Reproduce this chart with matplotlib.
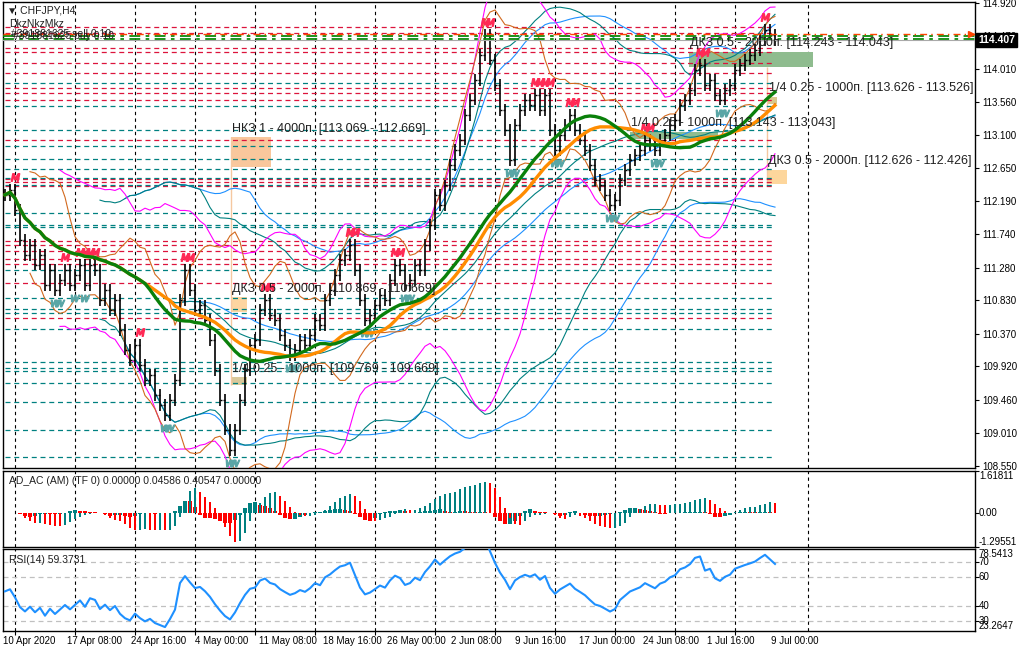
import numpy as np
import pandas as pd
import matplotlib
matplotlib.use("Agg")
import matplotlib.pyplot as plt
import matplotlib.transforms as mtransforms
from matplotlib.patches import Rectangle

plt.rcParams['font.family'] = ['Liberation Sans', 'DejaVu Sans']

# CHFJPY H4 closes (one value per drawn bar)
closes = [
    112.28, 112.35, 112.07, 111.66, 111.45, 111.59, 111.32, 111.45, 111.04, 111.25,
    110.97, 111.11, 111.25, 111.04, 111.18, 111.32, 111.04, 111.32, 111.25, 110.83,
    110.97, 110.70, 110.83, 110.42, 110.15, 110.01, 110.21, 109.94, 109.73, 109.80,
    109.53, 109.39, 109.25, 109.46, 109.73, 110.83, 111.25, 110.97, 110.70, 110.76,
    110.56, 110.28, 109.87, 109.46, 109.05, 108.77, 109.05, 109.46, 109.87, 110.21,
    110.28, 110.70, 110.83, 110.63, 110.56, 110.35, 110.21, 110.08, 110.15, 110.28,
    110.21, 110.35, 110.56, 110.49, 110.83, 110.97, 111.18, 111.38, 111.45, 111.59,
    111.25, 110.83, 110.56, 110.63, 110.76, 110.90, 110.83, 111.11, 111.32, 111.25,
    111.04, 111.11, 111.32, 111.25, 111.59, 111.87, 112.28, 112.14, 112.41, 112.69,
    112.90, 113.04, 113.38, 113.59, 113.86, 114.20, 114.48, 114.14, 113.79, 113.45,
    113.17, 112.76, 113.24, 113.45, 113.59, 113.52, 113.65, 113.45, 113.65, 113.17,
    112.90, 113.10, 113.24, 113.38, 113.17, 113.04, 112.90, 112.69, 112.48, 112.41,
    112.28, 112.14, 112.21, 112.48, 112.62, 112.76, 112.83, 112.90, 113.04, 112.97,
    112.90, 113.04, 113.10, 113.24, 113.31, 113.52, 113.59, 113.72, 114.00, 114.07,
    113.79, 113.86, 113.65, 113.59, 113.72, 113.79, 114.00, 114.07, 114.14, 114.20,
    114.27, 114.41, 114.55, 114.48, 114.407,
]

price_ticks = [114.920, 114.470, 114.010, 113.560, 113.100, 112.650, 112.190, 111.740,
               111.280, 110.830, 110.370, 109.920, 109.460, 109.010, 108.550]

red_levels = [114.590, 114.507, 114.301, 114.246, 114.095, 113.957, 113.751, 113.682,
              113.585, 113.035, 112.499, 112.457, 112.402, 111.646, 111.591, 111.508,
              111.398, 111.329, 111.068, 110.586]
teal_levels = [113.819, 113.503, 113.173, 112.953, 112.774, 112.636, 112.512, 112.416,
               112.031, 111.866, 111.838, 111.247, 110.861, 110.710, 110.655, 110.435,
               109.981, 109.898, 109.857, 109.692, 109.431, 109.045, 108.674]
green_lines = [114.466, 114.424]
order_line = 114.493
bid = 114.407

zone_names = ["НКЗ 1 - 4000п. [113.069 - 112.669]",
              "ДКЗ 0.5 - 2000п. [110.869 - 110.669]",
              "1/4 0.25 - 1000п. [109.769 - 109.669]",
              "ДКЗ 0.5 - 2000п. [114.243 - 114.043]",
              "1/4 0.25 - 1000п. [113.143 - 113.043]",
              "1/4 0.25 - 1000п. [113.626 - 113.526]",
              "ДКЗ 0.5 - 2000п. [112.626 - 112.426]"]
zone_tops = [113.069, 110.869, 109.769, 114.243, 113.143, 113.626, 112.626]
zone_bottoms = [112.669, 110.669, 109.669, 114.043, 113.043, 113.526, 112.426]
zone_start = [45.2, 45.2, 45.2, 136.8, 125.0, 152.6, 152.4]
zone_end = [53.2, 48.4, 48.4, 161.6, 142.6, 154.4, 156.4]
zone_colors = ['#f9c79c', '#fdd5a0', '#d9c99b', '#8fbc8f', '#8fbc8f', '#d8c88c', '#fdd69c']

time_labels = ["10 Apr 2020", "17 Apr 08:00", "24 Apr 16:00", "4 May 00:00",
               "11 May 08:00", "18 May 16:00", "26 May 00:00", "2 Jun 08:00",
               "9 Jun 16:00", "17 Jun 00:00", "24 Jun 08:00", "1 Jul 16:00", "9 Jul 00:00"]

# ---- derived series ----
c = pd.Series(closes)
n = len(c)
x = np.arange(n)
o = c.shift(1).fillna(c.iloc[0])
hi = np.maximum(o, c) + 0.08
lo = np.minimum(o, c) - 0.08


def bands(period, dev):
    mid = c.rolling(period, min_periods=period // 2).mean()
    sd = c.rolling(period, min_periods=period // 2).std(ddof=0)
    return mid, mid + dev * sd, mid - dev * sd


def wilder_rsi(values, period):
    d = np.diff(values, prepend=values[0])
    seed = np.abs(d).mean() / 2
    au, ad = seed, seed
    out = []
    for v in d:
        au = (au * (period - 1) + max(v, 0)) / period
        ad = (ad * (period - 1) + max(-v, 0)) / period
        out.append(100 - 100 / (1 + au / ad))
    return np.array(out)


W, H = 1020, 652


def box(l, t, r, b):
    return [l / W, 1 - b / H, (r - l) / W, (b - t) / H]


fig = plt.figure(figsize=(W / 100, H / 100), dpi=100)
ax = fig.add_axes(box(3, 2, 975, 468))
ax_ad = fig.add_axes(box(3, 471, 975, 547))
ax_rsi = fig.add_axes(box(3, 549, 975, 631))

xlim = (-0.4, 194.0)
grid_x = np.arange(2, 150, 12).tolist() + [160.6]
for a in (ax, ax_ad, ax_rsi):
    a.set_xlim(*xlim)
    a.set_facecolor('white')
    for s in a.spines.values():
        s.set_color('black')
        s.set_linewidth(1)
    for gx in grid_x:
        a.axvline(gx, color='black', lw=0.8, ls=(0, (3, 3)), zorder=1)
    a.yaxis.tick_right()
    a.tick_params(axis='y', labelsize=7, length=3, pad=2, width=0.8)
    a.tick_params(axis='x', length=0, labelbottom=False)

# ---- main chart ----
ax.set_ylim(108.522, 114.933)
ax.set_yticks(price_ticks)
ax.set_yticklabels([f"{t:.3f}" for t in price_ticks])

last = n - 1
ax.hlines(red_levels, 0, last, colors='#dc143c', lw=0.9, linestyles=(0, (4, 3)), zorder=2)
ax.hlines(teal_levels, 0, last, colors='#008080', lw=0.9, linestyles=(0, (4, 3)), zorder=2)

for name, top, bot, s, e, col in zip(zone_names, zone_tops, zone_bottoms,
                                     zone_start, zone_end, zone_colors):
    ax.add_patch(Rectangle((s, bot), e - s, top - bot, facecolor=col,
                           edgecolor='none', zorder=1.5))
    ax.annotate(name, (s + 0.2, top), xytext=(0, 2), textcoords='offset points',
                fontsize=9, color='#202020', va='bottom', ha='left',
                annotation_clip=False, clip_on=True, zorder=8)
ax.vlines(45.2, 109.669, 113.069, color='#f5c8a0', lw=1, zorder=1.5)
ax.vlines(152.4, 112.426, 114.043, color='#f5c8a0', lw=1, zorder=1.5)

# bollinger-style envelopes
for period, dev, col in [(50, 2, '#1e90ff'), (40, 2, '#008080'),
                         (24, 2.4, '#ff00ff'), (12, 2, '#d2691e')]:
    mid, up, dn = bands(period, dev)
    if period >= 40:
        ax.plot(x, mid, color=col, lw=0.8, zorder=3)
    ax.plot(x, up, color=col, lw=0.8, zorder=3)
    ax.plot(x, dn, color=col, lw=0.8, zorder=3)

# bars
ax.vlines(x, lo, hi, color='black', lw=1.2, zorder=4)
ax.hlines(o, x - 0.4, x, color='black', lw=1, zorder=4)
ax.hlines(c, x, x + 0.4, color='black', lw=1, zorder=4)

# fractal marks
for i in range(2, n - 2):
    if hi[i] == hi[i - 2:i + 3].max():
        ax.plot(i, hi[i] + 0.1, marker='$M$', color='#ff2a55', ms=6, zorder=5)
    if lo[i] == lo[i - 2:i + 3].min():
        ax.plot(i, lo[i] - 0.1, marker='$W$', color='#5aa6a6', ms=6, zorder=5)

ax.plot(x, c.rolling(34, min_periods=1).mean(), color='#ff8c00', lw=2.4, zorder=6)
ax.plot(x, c.rolling(29, min_periods=1).mean(), color='#0a800a', lw=2.4, zorder=6)

for gl in green_lines:
    ax.axhline(gl, color='#0a8a0a', lw=1.3, ls=(0, (6, 3, 2, 3)), zorder=6)
ax.axhline(order_line, color='#ff4500', lw=1, ls=(0, (5, 3, 1, 3)), zorder=6)
ax.plot(193.3, order_line, marker='>', color='#ff4500', ms=5, zorder=7, clip_on=False)
ax.axhline(bid, color='#a9a9a9', lw=0.8, zorder=6)
ytr = mtransforms.blended_transform_factory(ax.transAxes, ax.transData)
ax.text(1.003, bid, f"{bid:.3f}", transform=ytr, color='white', fontsize=7.5,
        fontweight='bold', va='center', ha='left',
        bbox=dict(boxstyle='square,pad=0.2', fc='black', ec='black'), zorder=10)

ax.text(0.004, 0.992, "▼ CHFJPY,H4", transform=ax.transAxes, fontsize=7.5,
        va='top', ha='left', color='#202020', zorder=9)
ax.text(0.006, 0.963, "DkzNkzMkz", transform=ax.transAxes, fontsize=7.5,
        va='top', ha='left', color='#202020', zorder=9)
ax.text(0.008, 0.942, "#391881625 sell 0.10", transform=ax.transAxes, fontsize=7.5,
        va='top', ha='left', color='#202020', zorder=9)
ax.text(0.010, 0.938, "#391881625 buy 0.10", transform=ax.transAxes, fontsize=7.5,
        va='top', ha='left', color='#202020', zorder=9)

# ---- AD_AC panel ----
med = pd.Series((hi + lo) / 2)
ao = med.rolling(3, min_periods=1).mean() - med.rolling(13, min_periods=1).mean()
ac = ao - ao.rolling(3, min_periods=1).mean()
ao_col = np.where(ao.diff().fillna(0) >= 0, '#008080', '#ff0000')
ac_col = np.where(ac.diff().fillna(0) >= 0, '#008080', '#ff0000')
ax_ad.set_ylim(-1.29551, 1.61811)
ax_ad.bar(x, ac, width=0.95, color=ac_col, zorder=3)
ax_ad.bar(x, ao, width=0.35, color=ao_col, zorder=4)
ax_ad.set_yticks([1.61811, 0, -1.29551])
ax_ad.set_yticklabels([])
ad_tr = mtransforms.blended_transform_factory(ax_ad.transAxes, ax_ad.transData)
ax_ad.text(1.004, 1.61811, "1.61811", transform=ad_tr, fontsize=7, va='top')
ax_ad.text(1.004, 0, "0.00", transform=ad_tr, fontsize=7, va='center')
ax_ad.text(1.004, -1.29551, "-1.29551", transform=ad_tr, fontsize=7, va='bottom')
ax_ad.text(0.006, 0.93, "AD_AC (AM) (TF 0) 0.00000 0.04586 0.40547 0.00000",
           transform=ax_ad.transAxes, fontsize=7.5, va='top', color='#202020')

# ---- RSI panel ----
rsi = wilder_rsi(np.array(closes), 14)
ax_rsi.set_ylim(23.2647, 78.5413)
for lvl in (70, 60, 40, 30):
    ax_rsi.axhline(lvl, color='#c0c0c0', lw=0.9, ls=(0, (4, 3)), zorder=1)
ax_rsi.plot(x, rsi, color='#1e90ff', lw=1.5, zorder=3)
ax_rsi.set_yticks([70, 60, 40, 30])
ax_rsi.set_yticklabels([])
r_tr = mtransforms.blended_transform_factory(ax_rsi.transAxes, ax_rsi.transData)
for lvl in (70, 60, 40, 30):
    ax_rsi.text(1.004, lvl, str(lvl), transform=r_tr, fontsize=7, va='center')
ax_rsi.text(1.004, 78.5413, "78.5413", transform=r_tr, fontsize=7, va='top')
ax_rsi.text(1.004, 23.2647, "23.2647", transform=r_tr, fontsize=7, va='bottom')
ax_rsi.text(0.006, 0.93, "RSI(14) 59.3731", transform=ax_rsi.transAxes,
            fontsize=7.5, va='top', color='#202020')

# time axis
ax_rsi.set_xticks(grid_x[:-1])
ax_rsi.tick_params(axis='x', length=3, width=0.8, direction='out')
xt = mtransforms.blended_transform_factory(ax_rsi.transData, ax_rsi.transAxes)
for k, lab in enumerate(time_labels):
    ax_rsi.text(-0.4 + 12.8 * k, -0.06, lab, transform=xt, fontsize=7,
                va='top', ha='left', clip_on=False)

fig.savefig("out.png", dpi=100, facecolor='white')
